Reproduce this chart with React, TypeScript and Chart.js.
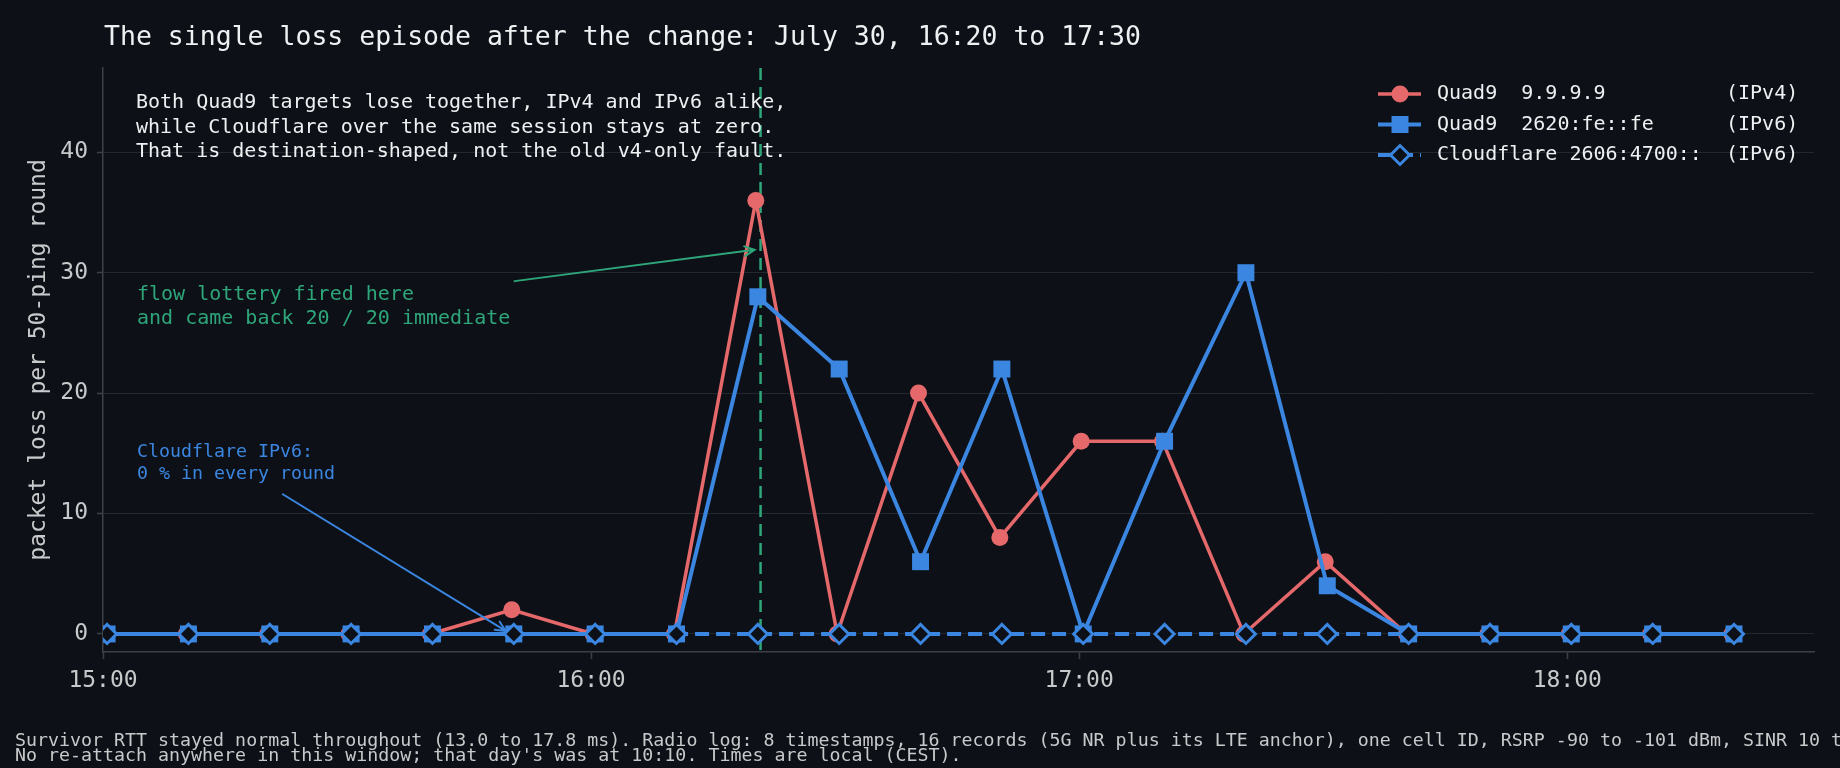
import { useEffect, useRef } from 'react';
import { Chart, registerables } from 'chart.js';

Chart.register(...registerables);

// one ping round every 10 minutes, 50 pings each
const ROUND_TIMES = [
  '15:00', '15:10', '15:20', '15:30', '15:40', '15:50', '16:00', '16:10', '16:20', '16:30', '16:40',
  '16:50', '17:00', '17:10', '17:20', '17:30', '17:40', '17:50', '18:00', '18:10', '18:20',
];
const QUAD9_V4_LOSS = [0, 0, 0, 0, 0, 2, 0, 0, 36, 0, 20, 8, 16, 16, 0, 6, 0, 0, 0, 0, 0];
const QUAD9_V6_LOSS = [0, 0, 0, 0, 0, 0, 0, 0, 28, 22, 6, 22, 0, 16, 30, 4, 0, 0, 0, 0, 0];
const CLOUDFLARE_V6_LOSS = [0, 0, 0, 0, 0, 0, 0, 0, 0, 0, 0, 0, 0, 0, 0, 0, 0, 0, 0, 0, 0];

// seconds past the round start at which each target was pinged
const V4_OFFSET_S = 15;
const V6_OFFSET_S = 30;
const CF_OFFSET_S = 30;

const X_TICKS = ['15:00', '16:00', '17:00', '18:00'];
const Y_TICKS = [0, 10, 20, 30, 40];
const X_END = '18:30:20';
const LOTTERY_TIME = '16:20:50';

const BG = '#0d1117';
const RED = '#e5686b';
const BLUE = '#3a86e0';
const GREEN = '#2ea67a';
const TEXT = '#eef0f2';
const TICK = '#c8c9cb';
const SPINE = '#3c4149';
const GRID = '#23282f';
const MONO = '"DejaVu Sans Mono", monospace';

function toMinutes(hhmm: string, offsetS = 0) {
  const [h, m, s = '0'] = hhmm.split(':');
  return (Number(h) - 15) * 60 + Number(m) + (Number(s) + offsetS) / 60;
}

const series = (values: number[], offsetS: number) =>
  ROUND_TIMES.map((t, i) => ({ x: toMinutes(t, offsetS), y: values[i] }));

const NOTE_LINES = [
  'Both Quad9 targets lose together, IPv4 and IPv6 alike,',
  'while Cloudflare over the same session stays at zero.',
  'That is destination-shaped, not the old v4-only fault.',
];
const LOTTERY_LINES = ['flow lottery fired here', 'and came back 20 / 20 immediate'];
const CF_LINES = ['Cloudflare IPv6:', '0 % in every round'];
const FOOTNOTE = [
  'Survivor RTT stayed normal throughout (13.0 to 17.8 ms). Radio log: 8 timestamps, 16 records (5G NR plus its LTE anchor), one cell ID, RSRP -90 to -101 dBm, SINR 10 to 17 dB.',
  "No re-attach anywhere in this window; that day's was at 10:10. Times are local (CEST).",
];

// arrows: [time, loss] tail -> tip
const LOTTERY_ARROW = { from: ['15:50:36', 29.3], to: ['16:20:06', 31.9] } as const;
const CF_ARROW = { from: ['15:22:06', 11.6], to: ['15:49:30', 0.25] } as const;

function arrow(ctx: CanvasRenderingContext2D, x1: number, y1: number, x2: number, y2: number, color: string) {
  const a = Math.atan2(y2 - y1, x2 - x1);
  const head = 11;
  ctx.save();
  ctx.strokeStyle = color;
  ctx.lineWidth = 2;
  ctx.lineCap = 'round';
  ctx.beginPath();
  ctx.moveTo(x1, y1);
  ctx.lineTo(x2, y2);
  ctx.moveTo(x2 - head * Math.cos(a - 0.45), y2 - head * Math.sin(a - 0.45));
  ctx.lineTo(x2, y2);
  ctx.lineTo(x2 - head * Math.cos(a + 0.45), y2 - head * Math.sin(a + 0.45));
  ctx.stroke();
  ctx.restore();
}

function textLines(ctx: CanvasRenderingContext2D, lines: string[], x: number, y: number, step: number, size: number, color: string) {
  ctx.save();
  ctx.font = `${size}px ${MONO}`;
  ctx.fillStyle = color;
  ctx.textAlign = 'left';
  ctx.textBaseline = 'middle';
  lines.forEach((l, i) => ctx.fillText(l, x, y + i * step));
  ctx.restore();
}

const overlay = {
  id: 'overlay',
  beforeDraw(chart: Chart) {
    const { ctx, width, height } = chart;
    ctx.save();
    ctx.fillStyle = BG;
    ctx.fillRect(0, 0, width, height);
    ctx.restore();
  },
  beforeDatasetsDraw(chart: Chart) {
    const { ctx, chartArea, scales } = chart;
    const x = scales.x.getPixelForValue(toMinutes(LOTTERY_TIME));
    ctx.save();
    ctx.strokeStyle = GREEN;
    ctx.lineWidth = 2.5;
    ctx.setLineDash([12, 7]);
    ctx.beginPath();
    ctx.moveTo(x, chartArea.top);
    ctx.lineTo(x, chartArea.bottom);
    ctx.stroke();
    ctx.restore();
  },
  afterDraw(chart: Chart) {
    const { ctx, chartArea, scales } = chart;
    const px = (p: readonly [string, number]) =>
      [scales.x.getPixelForValue(toMinutes(p[0])), scales.y.getPixelForValue(p[1])] as const;

    // title
    textLines(ctx, ['The single loss episode after the change: July 30, 16:20 to 17:30'], 104, 38, 0, 26.5, TEXT);

    // y axis title
    ctx.save();
    ctx.translate(39, (chartArea.top + chartArea.bottom) / 2);
    ctx.rotate(-Math.PI / 2);
    ctx.font = `23px ${MONO}`;
    ctx.fillStyle = TICK;
    ctx.textAlign = 'center';
    ctx.textBaseline = 'middle';
    ctx.fillText('packet loss per 50-ping round', 0, 0);
    ctx.restore();

    // notes
    textLines(ctx, NOTE_LINES, 136, 103, 24.5, 20, TEXT);
    textLines(ctx, LOTTERY_LINES, 137, 295, 24, 20, GREEN);
    textLines(ctx, CF_LINES, 137, 452, 22.5, 18.3, BLUE);

    const [gx1, gy1] = px(LOTTERY_ARROW.from);
    const [gx2, gy2] = px(LOTTERY_ARROW.to);
    arrow(ctx, gx1, gy1, gx2, gy2, GREEN);
    const [bx1, by1] = px(CF_ARROW.from);
    const [bx2, by2] = px(CF_ARROW.to);
    arrow(ctx, bx1, by1, bx2, by2, BLUE);

    // legend
    chart.data.datasets.forEach((ds: any, i: number) => {
      const y = 94 + i * 30.5;
      const color = ds.borderColor as string;
      ctx.save();
      ctx.strokeStyle = color;
      ctx.lineWidth = ds.borderWidth;
      ctx.setLineDash(ds.borderDash || []);
      ctx.beginPath();
      ctx.moveTo(1378, y);
      ctx.lineTo(1421, y);
      ctx.stroke();
      ctx.setLineDash([]);
      const r = ds.pointRadius;
      ctx.beginPath();
      if (ds.pointStyle === 'circle') {
        ctx.arc(1400, y, r, 0, Math.PI * 2);
      } else if (ds.pointStyle === 'rect') {
        const s = r * Math.SQRT1_2;
        ctx.rect(1400 - s, y - s, 2 * s, 2 * s);
      } else {
        ctx.moveTo(1400 - r, y);
        ctx.lineTo(1400, y - r);
        ctx.lineTo(1400 + r, y);
        ctx.lineTo(1400, y + r);
        ctx.closePath();
      }
      ctx.fillStyle = ds.pointBackgroundColor;
      ctx.fill();
      if (ds.pointBorderWidth) {
        ctx.lineWidth = ds.pointBorderWidth;
        ctx.strokeStyle = color;
        ctx.stroke();
      }
      ctx.restore();
      textLines(ctx, [ds.label], 1437, y, 0, 20, TEXT);
    });

    // footnote
    textLines(ctx, FOOTNOTE, 15, 741, 15.2, 18.3, TICK);
  },
};

export default function App() {
  const canvasRef = useRef<HTMLCanvasElement>(null);
  const chartRef = useRef<Chart | null>(null);

  useEffect(() => {
    if (!canvasRef.current) return;
    if (chartRef.current) chartRef.current.destroy();

    const tickFont = { family: MONO, size: 23 };

    chartRef.current = new Chart(canvasRef.current, {
      type: 'line',
      data: {
        datasets: [
          {
            label: 'Quad9  9.9.9.9'.padEnd(24) + '(IPv4)',
            data: series(QUAD9_V4_LOSS, V4_OFFSET_S),
            borderColor: RED,
            backgroundColor: RED,
            pointBackgroundColor: RED,
            borderWidth: 3.5,
            pointStyle: 'circle',
            pointRadius: 8.5,
            pointBorderWidth: 0,
            order: 2,
            clip: 0,
          },
          {
            label: 'Quad9  2620:fe::fe'.padEnd(24) + '(IPv6)',
            data: series(QUAD9_V6_LOSS, V6_OFFSET_S),
            borderColor: BLUE,
            backgroundColor: BLUE,
            pointBackgroundColor: BLUE,
            borderWidth: 4,
            pointStyle: 'rect',
            pointRadius: 12,
            pointBorderWidth: 0,
            order: 1,
            clip: 0,
          },
          {
            label: 'Cloudflare 2606:4700::'.padEnd(24) + '(IPv6)',
            data: series(CLOUDFLARE_V6_LOSS, CF_OFFSET_S),
            borderColor: BLUE,
            backgroundColor: BG,
            pointBackgroundColor: BG,
            borderWidth: 4,
            borderDash: [14, 7],
            pointStyle: 'rectRot',
            pointRadius: 9.5,
            pointBorderWidth: 3,
            order: 0,
            clip: 0,
          },
        ] as any,
      },
      options: {
        animation: false,
        responsive: true,
        maintainAspectRatio: false,
        events: [],
        layout: { padding: { top: 68, right: 26, left: 0, bottom: 0 } },
        plugins: {
          legend: { display: false },
          tooltip: { enabled: false },
          title: { display: false },
        },
        scales: {
          x: {
            type: 'linear',
            min: 0,
            max: toMinutes(X_END),
            afterBuildTicks: (s: any) => {
              s.ticks = X_TICKS.map((t) => ({ value: toMinutes(t) }));
            },
            afterFit: (s: any) => {
              s.height = 116;
            },
            ticks: {
              callback: (_v: any, i: number) => X_TICKS[i],
              color: TICK,
              font: tickFont,
              padding: 8,
              maxRotation: 0,
              autoSkip: false,
            },
            grid: { drawOnChartArea: false, tickLength: 7, tickColor: SPINE, tickWidth: 1.5 },
            border: { color: SPINE, width: 1.5 },
          },
          y: {
            type: 'linear',
            min: -1.5,
            max: 47,
            afterBuildTicks: (s: any) => {
              s.ticks = Y_TICKS.map((v) => ({ value: v }));
            },
            afterFit: (s: any) => {
              s.width = 103;
            },
            ticks: { color: TICK, font: tickFont, padding: 9 },
            grid: { color: GRID, lineWidth: 1, tickLength: 6, tickColor: SPINE, tickWidth: 1.5 },
            border: { color: SPINE, width: 1.5 },
          },
        },
      },
      plugins: [overlay],
    });

    return () => {
      if (chartRef.current) {
        chartRef.current.destroy();
        chartRef.current = null;
      }
    };
  }, []);

  return (
    <div style={{ position: 'absolute', left: 0, top: 0, width: 1840, height: 768, background: BG }}>
      <canvas ref={canvasRef} role="img" aria-label="Packet loss per 50-ping round, July 30, 15:00 to 18:30" />
    </div>
  );
}
